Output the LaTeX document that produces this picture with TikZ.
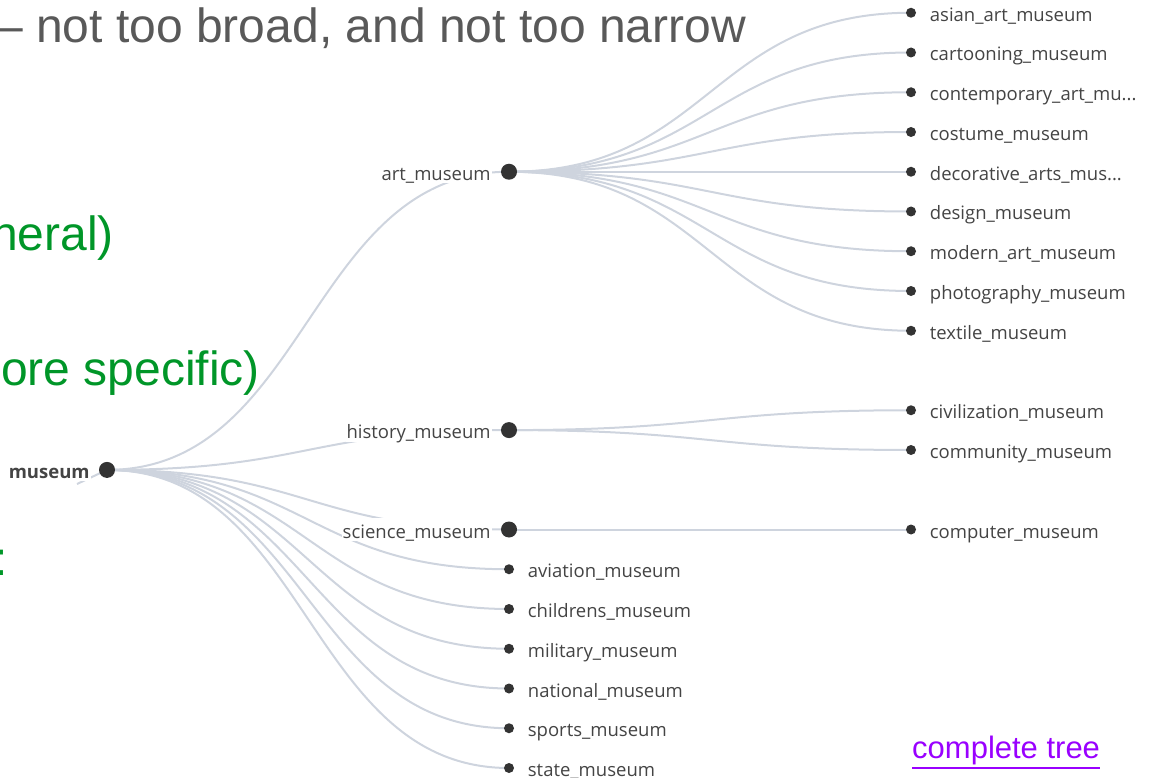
\documentclass[tikz,border=0pt]{standalone}
\usepackage{fontspec}
\setmainfont{Liberation Sans}
\newfontfamily\treefont{Open Sans}
\usepackage{tikz}
\usetikzlibrary{positioning}
\usetikzlibrary{backgrounds}

\definecolor{slidegray}{RGB}{89,89,89}
\definecolor{slidegreen}{RGB}{0,150,40}
\definecolor{linkpurple}{RGB}{153,0,255}
\definecolor{edgegray}{RGB}{206,212,222}
\definecolor{dotgray}{RGB}{51,51,51}
\definecolor{labelgray}{RGB}{68,68,68}

\begin{document}
\begin{tikzpicture}[x=1pt,y=-1pt,
    inner node/.style={circle,fill=dotgray,minimum size=16pt,inner sep=0pt},
    leaf node/.style={circle,fill=dotgray,minimum size=10pt,inner sep=0pt},
    tree label/.style={font=\treefont\fontsize{18.5}{20}\selectfont,text=labelgray,fill=white,
      inner sep=1pt,text height=18.9pt,text depth=1.9pt},
    root label/.style={tree label,font=\treefont\bfseries\fontsize{18.5}{20}\selectfont},
    tree link/.style={draw=edgegray,line width=2pt},
    slide text/.style={font=\fontsize{48}{56}\selectfont,inner sep=0pt}]
  \useasboundingbox (0,0) rectangle (1149,778);
  \clip (0,0) rectangle (1149,778);

  % root
  \node at (107,469.9) [inner node] (museum) {};
  \node [root label,left=8pt of museum] (museum-l) {museum};
  \coordinate (museum-up) at (77,484);

  % first level
  \node at (509,171.75) [inner node] (art) {};
  \node [tree label,left=9pt of art] (art-l) {art\_museum};
  \node at (509,430.1) [inner node] (history) {};
  \node [tree label,left=9pt of history] (history-l) {history\_museum};
  \node at (509,529.5) [inner node] (science) {};
  \node [tree label,left=9pt of science] (science-l) {science\_museum};
  \node at (509,569.25) [leaf node] (aviation) {};
  \node [tree label,right=12.5pt of aviation] (aviation-l) {aviation\_museum};
  \node at (509,609) [leaf node] (childrens) {};
  \node [tree label,right=12.5pt of childrens] (childrens-l) {childrens\_museum};
  \node at (509,648.75) [leaf node] (military) {};
  \node [tree label,right=12.5pt of military] (military-l) {military\_museum};
  \node at (509,688.5) [leaf node] (national) {};
  \node [tree label,right=12.5pt of national] (national-l) {national\_museum};
  \node at (509,728.25) [leaf node] (sports) {};
  \node [tree label,right=12.5pt of sports] (sports-l) {sports\_museum};
  \node at (509,768) [leaf node] (state) {};
  \node [tree label,right=12.5pt of state] (state-l) {state\_museum};

  % second level
  \node at (911,12.75) [leaf node] (asian) {};
  \node [tree label,right=12.5pt of asian] (asian-l) {asian\_art\_museum};
  \node at (911,52.5) [leaf node] (cartooning) {};
  \node [tree label,right=12.5pt of cartooning] (cartooning-l) {cartooning\_museum};
  \node at (911,92.25) [leaf node] (contemporary) {};
  \node [tree label,right=12.5pt of contemporary] (contemporary-l) {contemporary\_art\_mu...};
  \node at (911,132) [leaf node] (costume) {};
  \node [tree label,right=12.5pt of costume] (costume-l) {costume\_museum};
  \node at (911,171.75) [leaf node] (decorative) {};
  \node [tree label,right=12.5pt of decorative] (decorative-l) {decorative\_arts\_mus...};
  \node at (911,211.5) [leaf node] (design) {};
  \node [tree label,right=12.5pt of design] (design-l) {design\_museum};
  \node at (911,251.25) [leaf node] (modern) {};
  \node [tree label,right=12.5pt of modern] (modern-l) {modern\_art\_museum};
  \node at (911,291) [leaf node] (photography) {};
  \node [tree label,right=12.5pt of photography] (photography-l) {photography\_museum};
  \node at (911,330.75) [leaf node] (textile) {};
  \node [tree label,right=12.5pt of textile] (textile-l) {textile\_museum};
  \node at (911,410.25) [leaf node] (civilization) {};
  \node [tree label,right=12.5pt of civilization] (civilization-l) {civilization\_museum};
  \node at (911,450) [leaf node] (community) {};
  \node [tree label,right=12.5pt of community] (community-l) {community\_museum};
  \node at (911,529.5) [leaf node] (computer) {};
  \node [tree label,right=12.5pt of computer] (computer-l) {computer\_museum};

  \begin{scope}[on background layer]
    \draw[tree link] (museum-up) -- (museum.center);

    \draw[tree link] (museum.center) .. controls +(201,0) and +(-201,0) .. (art.center);
    \draw[tree link] (museum.center) .. controls +(201,0) and +(-201,0) .. (history.center);
    \draw[tree link] (museum.center) .. controls +(201,0) and +(-201,0) .. (science.center);
    \draw[tree link] (museum.center) .. controls +(201,0) and +(-201,0) .. (aviation.center);
    \draw[tree link] (museum.center) .. controls +(201,0) and +(-201,0) .. (childrens.center);
    \draw[tree link] (museum.center) .. controls +(201,0) and +(-201,0) .. (military.center);
    \draw[tree link] (museum.center) .. controls +(201,0) and +(-201,0) .. (national.center);
    \draw[tree link] (museum.center) .. controls +(201,0) and +(-201,0) .. (sports.center);
    \draw[tree link] (museum.center) .. controls +(201,0) and +(-201,0) .. (state.center);

    \draw[tree link] (art.center) .. controls +(201,0) and +(-201,0) .. (asian.center);
    \draw[tree link] (art.center) .. controls +(201,0) and +(-201,0) .. (cartooning.center);
    \draw[tree link] (art.center) .. controls +(201,0) and +(-201,0) .. (contemporary.center);
    \draw[tree link] (art.center) .. controls +(201,0) and +(-201,0) .. (costume.center);
    \draw[tree link] (art.center) .. controls +(201,0) and +(-201,0) .. (decorative.center);
    \draw[tree link] (art.center) .. controls +(201,0) and +(-201,0) .. (design.center);
    \draw[tree link] (art.center) .. controls +(201,0) and +(-201,0) .. (modern.center);
    \draw[tree link] (art.center) .. controls +(201,0) and +(-201,0) .. (photography.center);
    \draw[tree link] (art.center) .. controls +(201,0) and +(-201,0) .. (textile.center);

    \draw[tree link] (history.center) .. controls +(201,0) and +(-201,0) .. (civilization.center);
    \draw[tree link] (history.center) .. controls +(201,0) and +(-201,0) .. (community.center);

    \draw[tree link] (science.center) .. controls +(201,0) and +(-201,0) .. (computer.center);
  \end{scope}

  % slide text
  \node at (-4,43) [slide text,text=slidegray,anchor=base west] (headline) {-- not too broad, and not too narrow};
  \node at (114,251) [slide text,text=slidegreen,anchor=base east] (general) {neral)};
  \node at (260,385) [slide text,text=slidegreen,anchor=base east] (specific) {ore specific)};
  \node at (-6,575) [slide text,text=slidegreen,anchor=base west] (colon) {:};
  \node at (912,758) [font=\fontsize{31}{36}\selectfont,text=linkpurple,inner sep=0pt,anchor=base west] (fulltree)
    {\vtop{\hbox{complete tree}\kern2.5pt\hrule height 1.8pt}};
\end{tikzpicture}
\end{document}
